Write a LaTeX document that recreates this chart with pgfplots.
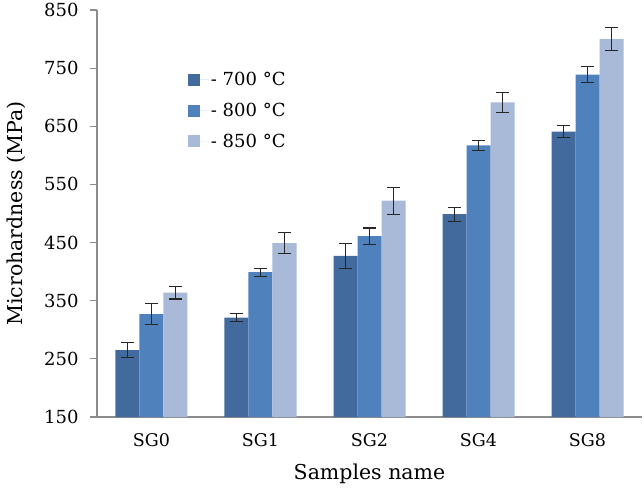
\documentclass[border=0pt]{standalone}
\usepackage{fontspec}
\setmainfont{DejaVu Serif}
\usepackage{pgfplots}
\pgfplotsset{compat=1.18}
\usepackage{pgfplotstable}

\definecolor{c700}{RGB}{66,106,156}
\definecolor{c800}{RGB}{79,129,189}
\definecolor{c850}{RGB}{169,185,216}
\definecolor{axisgray}{RGB}{140,140,140}

% columns: x, mean, error
\pgfplotstableread{
x  y   e
0  265 13
1  321 7
2  427 21
3  499 12
4  641 11
}\tabA
\pgfplotstableread{
x  y   e
0  327 18
1  399 7
2  461 14
3  617 8
4  739 14
}\tabB
\pgfplotstableread{
x  y   e
0  364 11
1  449 18
2  522 23
3  691 17
4  800 20
}\tabC

\begin{document}
\begin{tikzpicture}
\begin{axis}[
  scale only axis,
  width=545bp, height=407bp,
  ybar=0pt, bar width=24bp,
  xmin=-0.5, xmax=4.5,
  ymin=150, ymax=850,
  ytick={150,250,...,850},
  xtick=data,
  xticklabels={SG0,SG1,SG2,SG4,SG8},
  axis lines*=left,
  axis line style={draw=axisgray, line width=1.2bp},
  y axis line style={-}, x axis line style={-},
  xtick style={draw=none},
  ytick style={draw=axisgray, line width=1.2bp},
  tick align=outside,
  major tick length=7bp,
  /pgf/number format/assume math mode=true,
  /pgf/number format/1000 sep={},
  yticklabel style={xshift=-8bp, font=\fontsize{18bp}{21bp}\selectfont},
  xticklabel style={yshift=-6bp, font=\fontsize{17.5bp}{21bp}\selectfont},
  xlabel={Samples name},
  ylabel={Microhardness (MPa)},
  label style={font=\fontsize{20.5bp}{24bp}\selectfont},
  xlabel style={yshift=-10bp},
  ylabel style={yshift=12bp},
  legend cell align=left,
  legend style={draw=none, fill=none, at={(0.161,0.857)}, anchor=north west,
    row sep=12bp, font=\fontsize{18bp}{21bp}\selectfont},
  legend image code/.code={\fill[#1] (0bp,-6bp) rectangle (12bp,6bp); \path (0bp,0bp) -- (21bp,0bp);},
  error bars/y dir=both,
  error bars/y explicit,
  error bars/error bar style={black!85, line width=1.1bp},
  error bars/error mark options={black!85, line width=1.1bp, mark size=6.5bp, rotate=90},
]
\addplot[fill=c700, draw=none] table[x=x, y=y, y error=e] {\tabA};
\addplot[fill=c800, draw=none] table[x=x, y=y, y error=e] {\tabB};
\addplot[fill=c850, draw=none] table[x=x, y=y, y error=e] {\tabC};
\legend{- 700 °C, - 800 °C, - 850 °C}
\end{axis}
\pgfresetboundingbox
\path[use as bounding box] (-97bp,-73bp) rectangle (547bp,417bp);
\end{tikzpicture}
\end{document}
